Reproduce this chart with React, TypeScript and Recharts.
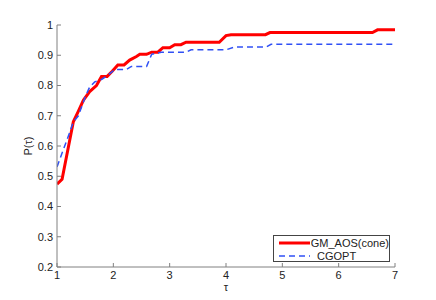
import React from 'react';
import { LineChart, Line, XAxis, YAxis, Legend } from 'recharts';

const tauTicks = [1, 2, 3, 4, 5, 6, 7];
const pTicks = [0.2, 0.3, 0.4, 0.5, 0.6, 0.7, 0.8, 0.9, 1];

const gmTau = [1.0, 1.09, 1.29, 1.38, 1.47, 1.58, 1.7, 1.79, 1.89, 1.98, 2.08, 2.19, 2.29, 2.41, 2.47, 2.59, 2.68, 2.79, 2.88, 3.0, 3.09, 3.2, 3.29, 3.88, 4.0, 4.09, 4.7, 4.78, 6.6, 6.69, 7.0];
const gmP = [0.474, 0.49, 0.68, 0.715, 0.752, 0.78, 0.8, 0.83, 0.83, 0.847, 0.868, 0.868, 0.884, 0.896, 0.903, 0.903, 0.91, 0.91, 0.925, 0.925, 0.935, 0.935, 0.943, 0.943, 0.965, 0.968, 0.968, 0.975, 0.975, 0.984, 0.984];

const cgTau = [1.0, 1.23, 1.29, 1.38, 1.5, 1.58, 1.67, 1.79, 1.88, 2.03, 2.23, 2.32, 2.59, 2.68, 2.85, 3.29, 3.38, 4.0, 4.15, 4.71, 4.8, 7.0];
const cgP = [0.531, 0.647, 0.68, 0.7, 0.762, 0.795, 0.812, 0.82, 0.831, 0.853, 0.853, 0.863, 0.863, 0.903, 0.91, 0.91, 0.918, 0.918, 0.927, 0.927, 0.936, 0.936];

const gmData = gmTau.map((t, i) => ({ tau: t, p: gmP[i] }));
const cgData = cgTau.map((t, i) => ({ tau: t, p: cgP[i] }));

const AXIS = '#808080';
const FONT = { fontFamily: '"Liberation Sans", Arial, sans-serif', fontSize: 11, fill: '#222' };
const fmtP = (v: number) => (v === 1 ? '1' : v.toFixed(1));

const legendItems = [
  { name: 'GM_AOS(cone)', color: '#ff0000', width: 3, dash: undefined },
  { name: 'CGOPT', color: '#3050f5', width: 1.5, dash: '6 4' },
];

const LegendBox = () => (
  <div
    style={{
      border: '1px solid #444',
      background: '#fff',
      width: 115,
      height: 25,
      fontFamily: '"Liberation Sans", Arial, sans-serif',
      fontSize: 11,
      color: '#222',
      boxSizing: 'content-box',
    }}
  >
    {legendItems.map((it) => (
      <div key={it.name} style={{ display: 'flex', alignItems: 'center', height: 12, marginTop: 1 }}>
        <svg width={38} height={12} style={{ marginLeft: 5 }}>
          <line x1={0} x2={31} y1={6} y2={6} stroke={it.color} strokeWidth={it.width} strokeDasharray={it.dash} />
        </svg>
        <span style={{ lineHeight: '12px' }}>{it.name}</span>
      </div>
    ))}
  </div>
);

export default function App() {
  return (
    <LineChart width={420} height={292} margin={{ top: 17, right: 33, left: 9, bottom: 3 }}>
      <XAxis
        dataKey="tau"
        type="number"
        domain={[1, 7]}
        ticks={tauTicks}
        allowDataOverflow
        height={30}
        stroke={AXIS}
        tickSize={-4}
        tickMargin={8}
        tick={FONT}
        label={{ value: 'τ', position: 'insideBottom', offset: 6, style: FONT }}
      />
      <XAxis
        xAxisId="top"
        orientation="top"
        type="number"
        domain={[1, 7]}
        ticks={tauTicks}
        allowDataOverflow
        height={0}
        stroke={AXIS}
        tickSize={-4}
        tickFormatter={() => ''}
      />
      <YAxis
        type="number"
        domain={[0.2, 1]}
        ticks={pTicks}
        allowDataOverflow
        width={40}
        stroke={AXIS}
        tickSize={-4}
        tickMargin={8}
        tick={FONT}
        tickFormatter={fmtP}
        label={{ value: 'P(τ)', angle: -90, position: 'insideLeft', offset: 11, style: { ...FONT, textAnchor: 'middle' } }}
      />
      <YAxis
        yAxisId="right"
        orientation="right"
        type="number"
        domain={[0.2, 1]}
        ticks={pTicks}
        allowDataOverflow
        width={0}
        stroke={AXIS}
        tickSize={-4}
        tickFormatter={() => ''}
      />
      <Legend
        layout="vertical"
        align="center"
        verticalAlign="middle"
        content={() => <LegendBox />}
        wrapperStyle={{ left: 265, top: 227, width: 117 }}
      />
      <Line
        data={gmData}
        dataKey="p"
        name="GM_AOS(cone)"
        type="linear"
        stroke="#ff0000"
        strokeWidth={3}
        dot={false}
        isAnimationActive={false}
      />
      <Line
        data={cgData}
        dataKey="p"
        name="CGOPT"
        type="linear"
        stroke="#3050f5"
        strokeWidth={1.5}
        strokeDasharray="6 4"
        dot={false}
        isAnimationActive={false}
      />
    </LineChart>
  );
}
